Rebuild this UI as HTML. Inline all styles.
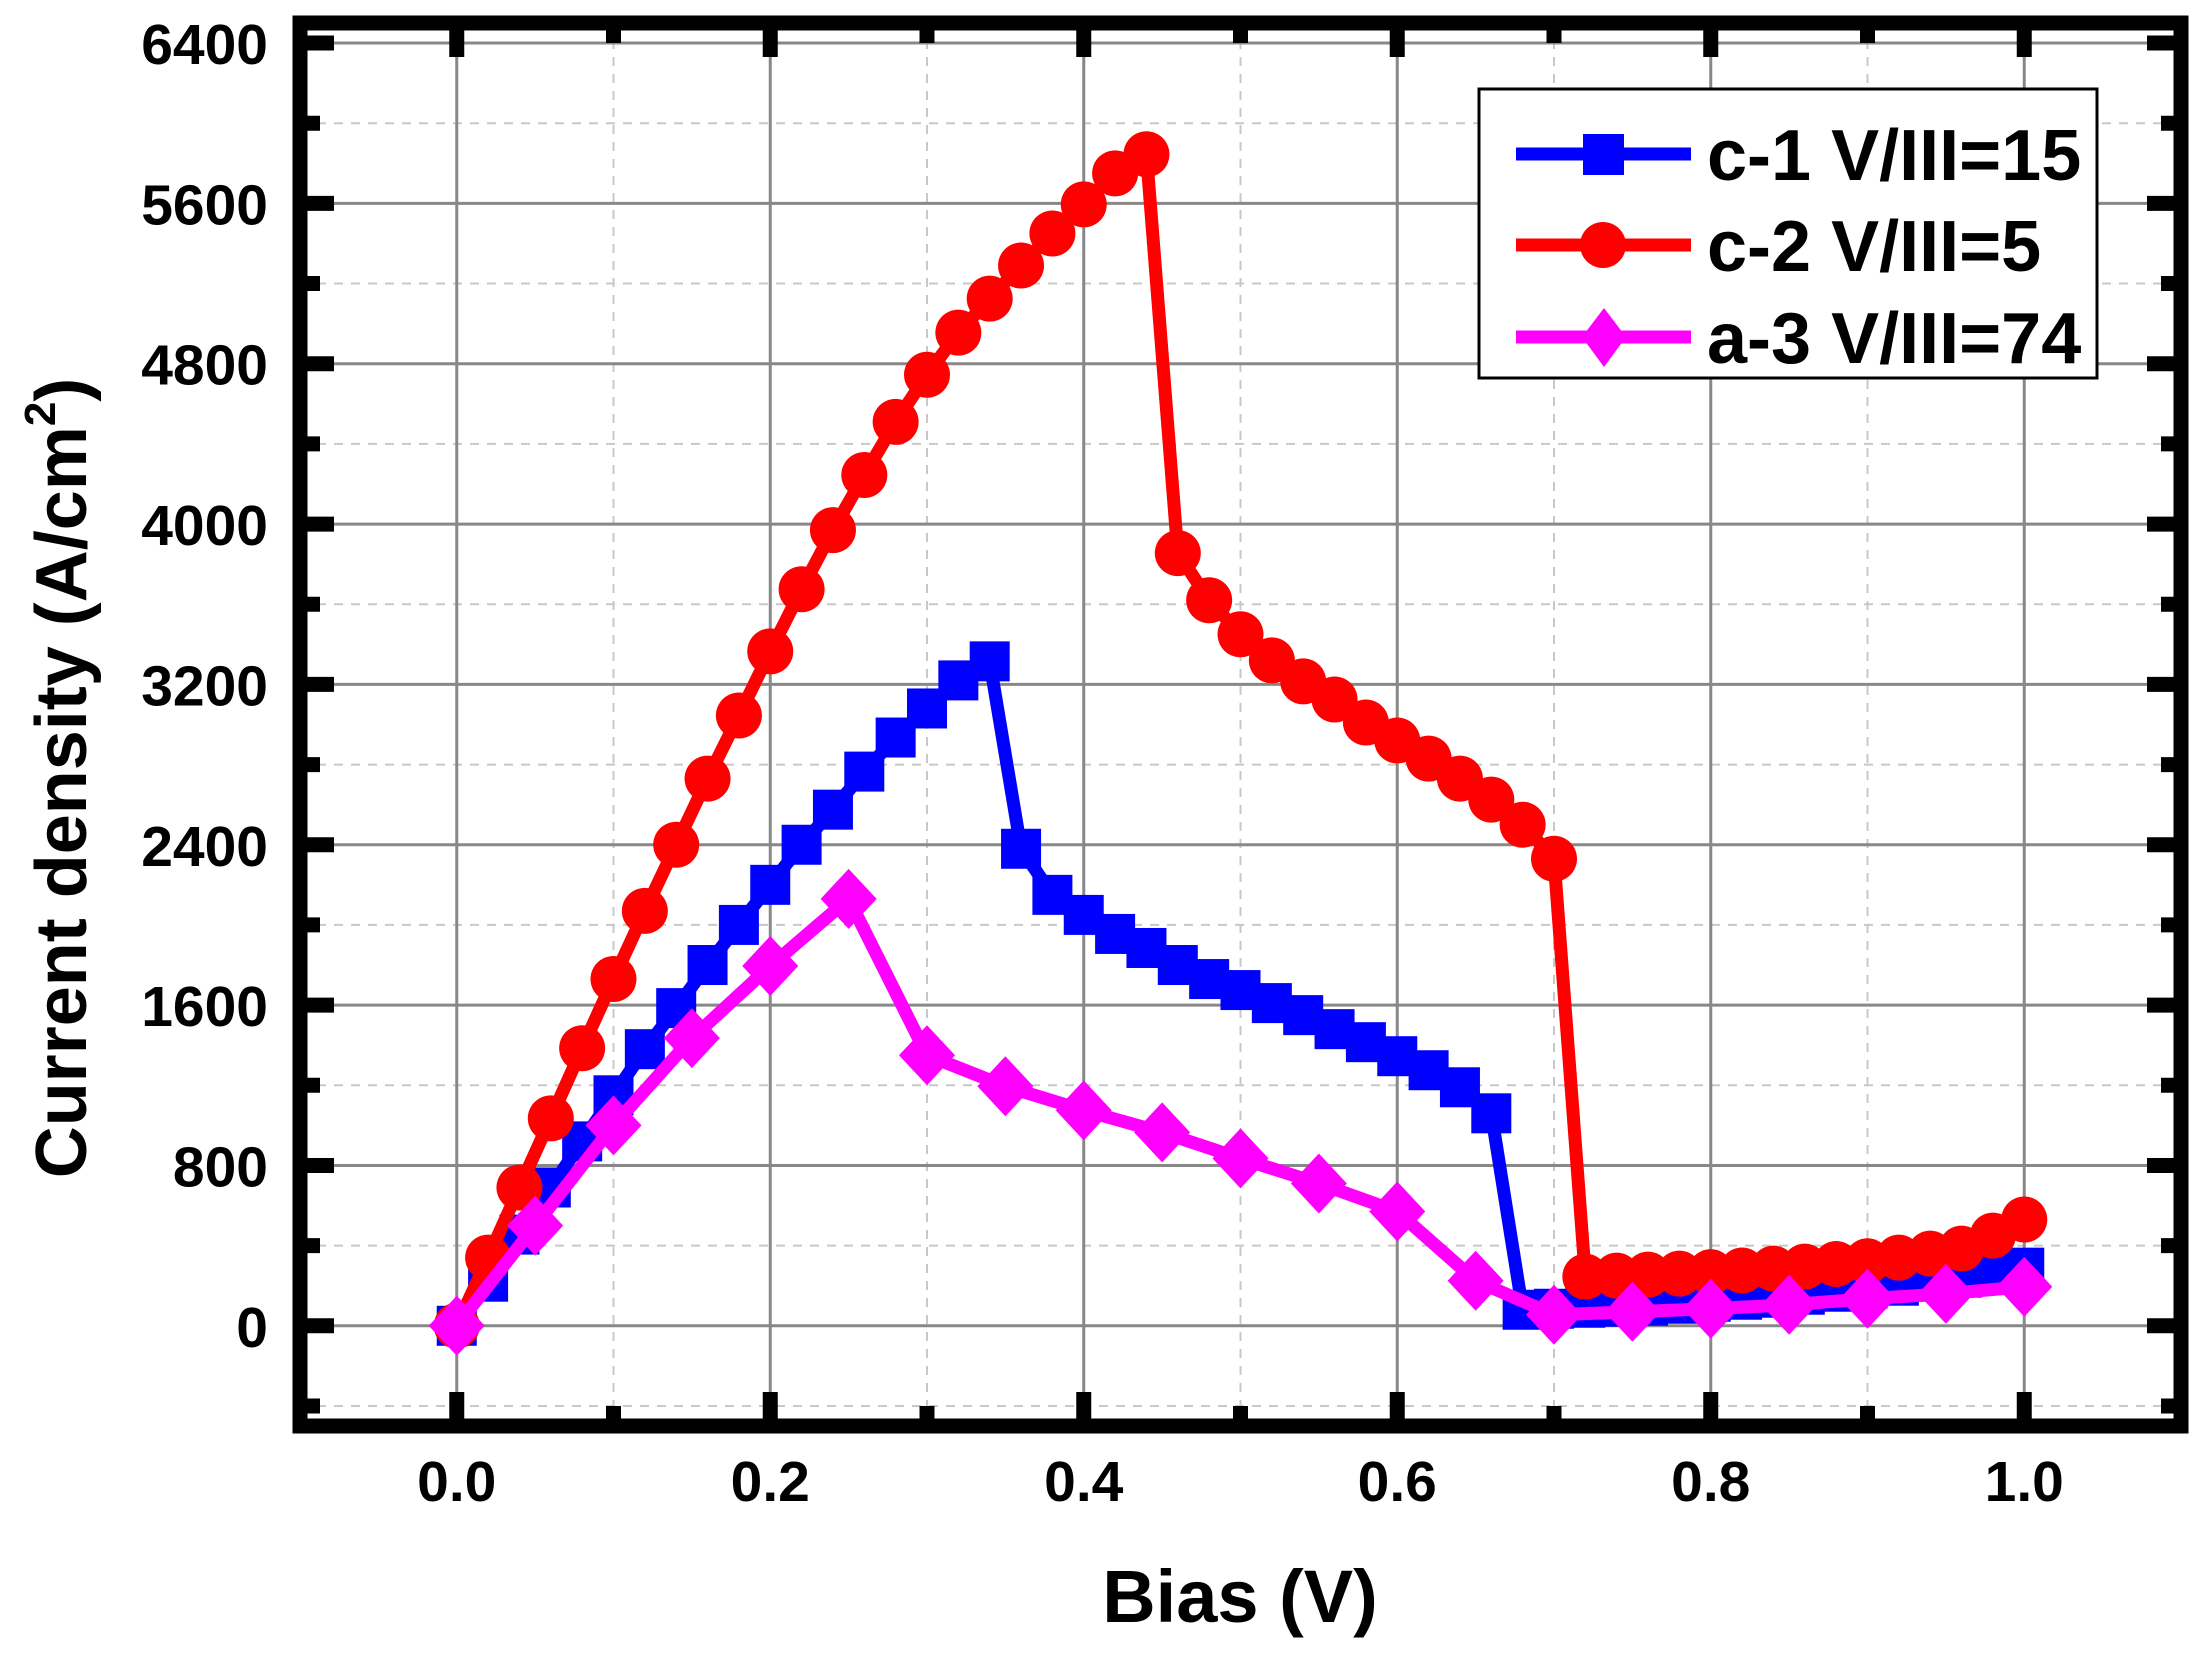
<!DOCTYPE html>
<html><head><meta charset="utf-8"><style>
html,body{margin:0;padding:0;background:#fff;}
svg{display:block;font-family:"Liberation Sans",Arial,sans-serif;font-weight:bold;}
</style></head><body>
<svg id="chart" width="2207" height="1656" viewBox="0 0 2207 1656" xmlns="http://www.w3.org/2000/svg">
<rect width="2207" height="1656" fill="#fff"/>
<g id="grid"></g>
<g id="series"></g>
<g id="frame"></g>
<g id="labels"></g>
<text x="1240" y="1622" font-size="74" text-anchor="middle">Bias (V)</text>
<text transform="translate(86,778) rotate(-90)" font-size="72" text-anchor="middle">Current density (A/cm<tspan font-size="44" dy="-31">2</tspan><tspan dy="31">)</tspan></text>
<g>
<rect x="1479" y="89" width="618" height="289" fill="#fff" stroke="#000" stroke-width="3"/>
<line x1="1516" y1="154" x2="1691" y2="154" stroke="#0000ff" stroke-width="13"/>
<rect x="1583" y="134" width="41" height="41" fill="#0000ff"/>
<text x="1707" y="180" font-size="72">c-1 V/III=15</text>
<line x1="1516" y1="245" x2="1691" y2="245" stroke="#ff0000" stroke-width="13"/>
<ellipse cx="1603" cy="245" rx="23" ry="23" fill="#ff0000"/>
<text x="1707" y="271" font-size="72">c-2 V/III=5</text>
<line x1="1516" y1="337" x2="1691" y2="337" stroke="#ff00ff" stroke-width="13"/>
<polygon points="1604,308 1626,337 1604,367 1582,337" fill="#ff00ff"/>
<text x="1707" y="363" font-size="72">a-3 V/III=74</text>
</g>
</svg>
<script>
const c1X = [0,0.02,0.04,0.06,0.08,0.10,0.12,0.14,0.16,0.18,0.20,0.22,0.24,0.26,0.28,0.30,0.32,0.34,0.36,0.38,0.40,0.42,0.44,0.46,0.48,0.50,0.52,0.54,0.56,0.58,0.60,0.62,0.64,0.66,0.68,0.70,0.72,0.74,0.76,0.78,0.80,0.82,0.84,0.86,0.88,0.90,0.92,0.94,0.96,0.98,1.0];
const c1Y = [0,220,455,690,920,1150,1380,1585,1800,2000,2200,2400,2575,2765,2935,3080,3220,3315,2380,2150,2050,1955,1885,1800,1730,1675,1610,1550,1480,1415,1345,1275,1190,1060,80,85,90,95,100,110,120,130,140,155,170,185,200,220,240,265,290];
const c2X = [0,0.02,0.04,0.06,0.08,0.10,0.12,0.14,0.16,0.18,0.20,0.22,0.24,0.26,0.28,0.30,0.32,0.34,0.36,0.38,0.40,0.42,0.44,0.46,0.48,0.50,0.52,0.54,0.56,0.58,0.60,0.62,0.64,0.66,0.68,0.70,0.72,0.74,0.76,0.78,0.80,0.82,0.84,0.86,0.88,0.90,0.92,0.94,0.96,0.98,1.0];
const c2Y = [0,340,690,1035,1385,1730,2070,2400,2730,3045,3365,3675,3970,4245,4510,4745,4955,5125,5290,5450,5595,5750,5845,3855,3620,3450,3320,3215,3125,3010,2920,2830,2730,2625,2500,2330,245,250,255,260,268,276,285,295,308,322,340,360,385,450,530];
const a3X = [0,0.05,0.10,0.15,0.20,0.25,0.30,0.35,0.40,0.45,0.50,0.55,0.60,0.65,0.70,0.75,0.80,0.85,0.90,0.95,1.0];
const a3Y = [0,500,1000,1435,1795,2130,1350,1195,1075,965,835,710,570,225,55,70,85,105,135,160,195];
const xTicks = ["0.0","0.2","0.4","0.6","0.8","1.0"];
const yTicks = ["0","800","1600","2400","3200","4000","4800","5600","6400"];

const NS="http://www.w3.org/2000/svg";
const X0=-0.1,X1=1.1,Y0=-500,Y1=6500;
const PX0=300,PX1=2181,PY0=1426,PY1=23;
function sx(v){return PX0+(v-X0)/(X1-X0)*(PX1-PX0);}
function sy(v){return PY0+(v-Y0)/(Y1-Y0)*(PY1-PY0);}
function mk(tag,attrs,parent){const e=document.createElementNS(NS,tag);for(const k in attrs)e.setAttribute(k,attrs[k]);parent.appendChild(e);return e;}
const grid=document.getElementById('grid'),ser=document.getElementById('series'),fr=document.getElementById('frame'),lab=document.getElementById('labels');
for(let v=-0.1;v<=1.05;v+=0.2){const l=mk('line',{x1:sx(v),x2:sx(v),y1:PY1,y2:PY0,stroke:'#c8c8c8','stroke-width':2,'stroke-dasharray':'9,8'},grid);

}
for(let v=-400;v<=6500;v+=800){const l=mk('line',{x1:PX0,x2:PX1,y1:sy(v),y2:sy(v),stroke:'#c8c8c8','stroke-width':2,'stroke-dasharray':'9,8'},grid);

}
xTicks.forEach(t=>{const v=parseFloat(t);const l=mk('line',{x1:sx(v),x2:sx(v),y1:PY1,y2:PY0,stroke:'#888','stroke-width':3},grid);

});
yTicks.forEach(t=>{const v=parseFloat(t);const l=mk('line',{x1:PX0,x2:PX1,y1:sy(v),y2:sy(v),stroke:'#888','stroke-width':3},grid);

});

function drawSeries(xs,ys,color,shape,name){
  const g=mk('g',{},ser);
  
  
  const pts=xs.map((x,i)=>sx(x)+','+sy(ys[i])).join(' ');
  mk('polyline',{points:pts,fill:'none',stroke:color,'stroke-width':13,'stroke-linejoin':'miter'},g);
  xs.forEach((x,i)=>{const cx=sx(x),cy=sy(ys[i]);let m;
    if(shape==='square')m=mk('rect',{x:cx-20,y:cy-20,width:40,height:40,fill:color},g);
    else if(shape==='circle')m=mk('ellipse',{cx:cx,cy:cy,rx:23,ry:23,fill:color},g);
    else m=mk('polygon',{points:`${cx},${cy-30} ${cx+28},${cy} ${cx},${cy+30} ${cx-28},${cy}`,fill:color},g);
    
    
  });
}
drawSeries(c1X,c1Y,'#0000ff','square','series-c1');
drawSeries(c2X,c2Y,'#ff0000','circle','series-c2');
drawSeries(a3X,a3Y,'#ff00ff','diamond','series-a3');

const f=mk('rect',{x:PX0,y:PY1,width:PX1-PX0,height:PY0-PY1,fill:'none',stroke:'#000','stroke-width':15},fr);


function tick(x1,y1,x2,y2){const t=mk('line',{x1,y1,x2,y2,stroke:'#000','stroke-width':15},fr);

}
for(let v=0;v<=1.05;v+=0.2){const x=sx(v);tick(x,PY0,x,PY0-34);tick(x,PY1,x,PY1+34);}
for(let v=-0.1;v<=1.15;v+=0.2){const x=sx(v);if(x>PX0+5&&x<PX1-5){tick(x,PY0,x,PY0-20);tick(x,PY1,x,PY1+20);}}
for(let v=0;v<=6400;v+=800){const y=sy(v);tick(PX0,y,PX0+34,y);tick(PX1,y,PX1-34,y);}
for(let v=-400;v<=6400;v+=800){const y=sy(v);tick(PX0,y,PX0+20,y);tick(PX1,y,PX1-20,y);}
xTicks.forEach(t=>{const e=mk('text',{x:sx(parseFloat(t)),y:1501,'font-size':57,'text-anchor':'middle'},lab);e.textContent=t;

});
yTicks.forEach(t=>{const e=mk('text',{x:268,y:sy(parseFloat(t))+21,'font-size':57,'text-anchor':'end'},lab);e.textContent=t;

});
</script>
</body></html>
